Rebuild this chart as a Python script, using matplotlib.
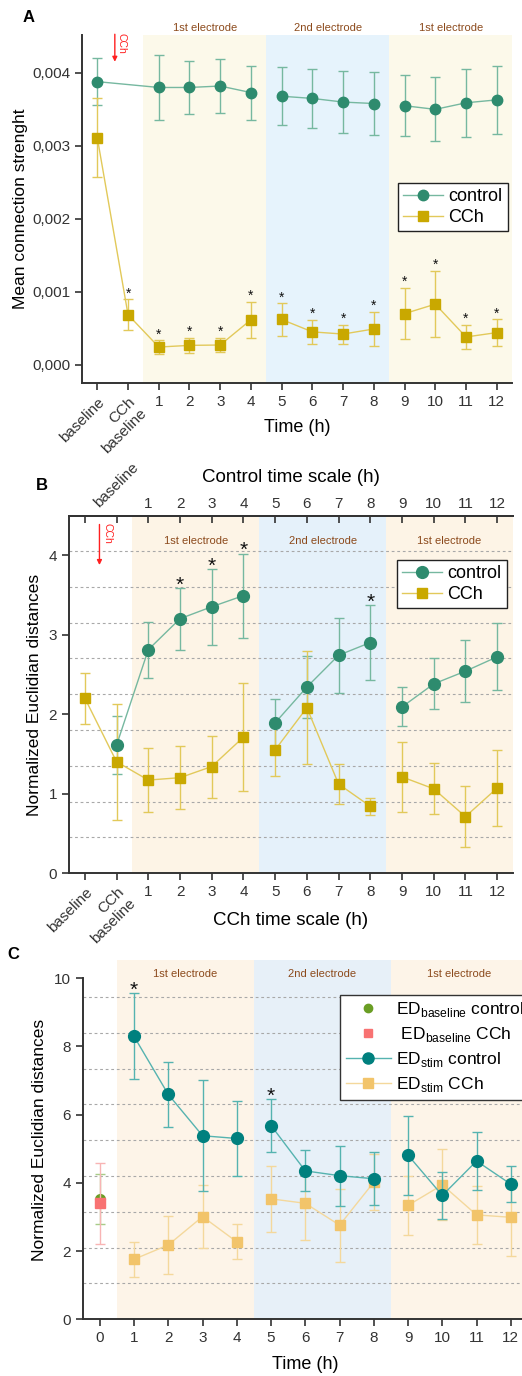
import matplotlib

matplotlib.use("Agg")
import matplotlib.pyplot as plt
from matplotlib.lines import Line2D
from matplotlib.ticker import FuncFormatter
from matplotlib.transforms import blended_transform_factory

plt.rcParams.update(
    {
        "font.family": ["Liberation Sans", "DejaVu Sans"],
        "mathtext.fontset": "custom",
        "mathtext.rm": "Liberation Sans",
        "axes.linewidth": 1.4,
        "axes.edgecolor": "#333333",
        "xtick.color": "#333333",
        "ytick.color": "#333333",
        "xtick.major.width": 1.2,
        "ytick.major.width": 1.2,
        "xtick.major.size": 5,
        "ytick.major.size": 5,
    }
)

hours = list(range(1, 13))
tick_labels = ["baseline", "CCh\nbaseline"] + [str(h) for h in hours]
blocks = [(-1, 4), (5, 8), (9, 12)]
electrodes = [(0.5, 4.5, "1st electrode"), (4.5, 8.5, "2nd electrode"), (8.5, 12.5, "1st electrode")]

# panel A: mean connection strength
a_control_x = [-1] + hours
a_control = [0.00388, 0.00380, 0.00380, 0.00382, 0.00373, 0.00368, 0.00365,
             0.00360, 0.00358, 0.00355, 0.00350, 0.00359, 0.00363]
a_control_err = [0.00032, 0.00044, 0.00036, 0.00037, 0.00037, 0.00040, 0.00040,
                 0.00042, 0.00043, 0.00042, 0.00044, 0.00047, 0.00047]
a_cch_x = [-1, 0] + hours
a_cch = [0.00311, 0.000685, 0.000242, 0.000265, 0.00027, 0.000616, 0.00062,
         0.00045, 0.00042, 0.00049, 0.00070, 0.00083, 0.00038, 0.00044]
a_cch_err = [0.00054, 0.00021, 0.00009, 0.00010, 0.00010, 0.00025, 0.00022,
             0.00016, 0.00013, 0.00023, 0.00035, 0.00045, 0.00017, 0.00018]
a_star_x = [0] + hours

# panel B: normalized euclidian distances, two time scales
b_control_x = [0] + hours
b_control = [1.61, 2.81, 3.20, 3.35, 3.49, 1.89, 2.34, 2.74, 2.90, 2.09, 2.38, 2.54, 2.72]
b_control_err = [0.36, 0.35, 0.39, 0.48, 0.53, 0.30, 0.39, 0.47, 0.47, 0.245, 0.32, 0.39, 0.42]
b_cch_x = [-1, 0] + hours
b_cch = [2.20, 1.40, 1.17, 1.20, 1.34, 1.71, 1.55, 2.08, 1.12, 0.84, 1.21, 1.06, 0.71, 1.07]
b_cch_err = [0.32, 0.73, 0.40, 0.40, 0.39, 0.68, 0.33, 0.71, 0.25, 0.11, 0.44, 0.32, 0.38, 0.48]
b_star_x = [2, 3, 4, 8]
b_top_labels = ["", "baseline"] + [str(h) for h in hours]

# panel C: ED baseline vs ED stim
c_base_control, c_base_control_err = 3.53, 0.73
c_base_cch, c_base_cch_err = 3.40, 1.18
c_control = [8.29, 6.59, 5.38, 5.30, 5.68, 4.35, 4.21, 4.12, 4.81, 3.63, 4.64, 3.96]
c_control_err = [1.26, 0.94, 1.62, 1.10, 0.79, 0.60, 0.88, 0.78, 1.16, 0.69, 0.85, 0.53]
c_cch = [1.76, 2.18, 3.01, 2.27, 3.53, 3.40, 2.76, 4.02, 3.34, 3.94, 3.06, 2.99]
c_cch_err = [0.52, 0.86, 0.93, 0.51, 0.96, 1.07, 1.07, 0.82, 0.87, 1.04, 0.85, 1.12]
c_star_x = [1, 5]

BROWN = "#8c4a1c"
RED = "#ff2020"


def draw_series(ax, x, y, err, *, marker, color, light, ms, z=3):
    ax.errorbar(x, y, yerr=err, fmt="none", ecolor=light, elinewidth=1.0,
                capsize=3.5, capthick=1.0, zorder=z)
    for lo, hi in blocks:
        idx = [i for i, v in enumerate(x) if lo <= v <= hi]
        ax.plot([x[i] for i in idx], [y[i] for i in idx], color=light, lw=1.0, zorder=z)
    ax.plot(x, y, ls="none", marker=marker, color=color, ms=ms, zorder=z + 1)


def add_stars(ax, xs, x, y, err, size, dy):
    for xv in xs:
        i = x.index(xv)
        ax.annotate("*", (xv, y[i] + err[i]), xytext=(0, dy), textcoords="offset points",
                    ha="center", va="baseline", fontsize=size, color="#111111", zorder=6)


def shade(ax, colors):
    for (lo, hi, _), c in zip(electrodes, colors):
        ax.axvspan(lo, hi, color=c, lw=0, zorder=0)


def rotate_first(labels, n):
    for lab in labels[:n]:
        lab.set_rotation(45)
        lab.set_ha("right")
        lab.set_va("top")
        lab.set_rotation_mode("anchor")
        lab.set_multialignment("right")


def place_xlabel(ax, text, size, y):
    ax.set_xlabel(text, fontsize=size)
    ax.xaxis.set_label_coords(0.5, y)
    ax.xaxis.label.set_va("center")


fig = plt.figure(figsize=(5.22, 13.76), dpi=100)

# ---------------- A ----------------
ax = fig.add_axes([0.157, 0.7217, 0.824, 0.2529])
shade(ax, ["#fcf9ea", "#e6f3fc", "#fcf9ea"])
draw_series(ax, a_control_x, a_control, a_control_err, marker="o",
            color="#2e8b6e", light="#76b8a0", ms=7.5)
draw_series(ax, a_cch_x, a_cch, a_cch_err, marker="s",
            color="#c9a800", light="#e2c95a", ms=6.5)
add_stars(ax, a_star_x, a_cch_x, a_cch, a_cch_err, 10, 1.5)
ax.set_xlim(-1.5, 12.5)
ax.set_ylim(-0.00025, 0.00452)
ax.set_yticks([0, 0.001, 0.002, 0.003, 0.004])
ax.yaxis.set_major_formatter(FuncFormatter(lambda v, _: f"{v:.3f}".replace(".", ",")))
ax.set_xticks(a_cch_x)
ax.set_xticklabels(tick_labels)
rotate_first(ax.get_xticklabels(), 2)
ax.tick_params(labelsize=11)
ax.spines[["top", "right"]].set_visible(False)
place_xlabel(ax, "Time (h)", 13, -0.129)
ax.set_ylabel("Mean connection strenght", fontsize=12.5, labelpad=3)
tr = blended_transform_factory(ax.transData, ax.transAxes)
for lo, hi, name in electrodes:
    ax.text((lo + hi) / 2, 1.005, name, transform=tr, ha="center", va="bottom",
            fontsize=8, color=BROWN)
ax.annotate("", xy=(-0.43, 0.915), xytext=(-0.43, 1.01), xycoords=tr, textcoords=tr,
            arrowprops=dict(arrowstyle="-|>", color=RED, lw=1.0, mutation_scale=7),
            annotation_clip=False)
ax.text(-0.2, 0.975, "CCh", transform=tr, rotation=-90, ha="center", va="center",
        fontsize=7.5, color=RED)
handles = [
    Line2D([], [], color="#76b8a0", marker="o", mfc="#2e8b6e", mec="#2e8b6e", ms=7.5, lw=1.0),
    Line2D([], [], color="#e2c95a", marker="s", mfc="#c9a800", mec="#c9a800", ms=6.5, lw=1.0),
]
ax.legend(handles, ["control", "CCh"], loc="upper right", bbox_to_anchor=(0.99, 0.575),
          fontsize=13, fancybox=False, edgecolor="#222222", framealpha=1,
          handlelength=2.2, borderaxespad=0, borderpad=0.3, labelspacing=0.2,
          handletextpad=0.3)

# ---------------- B ----------------
ax = fig.add_axes([0.1322, 0.3655, 0.8506, 0.2594])
shade(ax, ["#fdf4e6", "#e5f1fa", "#fdf4e6"])
for k in range(1, 10):
    ax.axhline(0.45 * k, color="#a8a8a8", lw=0.8, ls=(0, (2.5, 2.5)), zorder=1)
draw_series(ax, b_control_x, b_control, b_control_err, marker="o",
            color="#2e8b6e", light="#76b8a0", ms=8.5)
draw_series(ax, b_cch_x, b_cch, b_cch_err, marker="s",
            color="#c9a800", light="#e2c95a", ms=7)
add_stars(ax, b_star_x, b_control_x, b_control, b_control_err, 15, -2)
ax.set_xlim(-1.5, 12.5)
ax.set_ylim(0, 4.49)
ax.set_yticks([0, 1, 2, 3, 4])
ax.set_xticks(b_cch_x)
ax.set_xticklabels(tick_labels)
rotate_first(ax.get_xticklabels(), 2)
ax.tick_params(labelsize=11)
ax.spines["right"].set_visible(False)
place_xlabel(ax, "CCh time scale (h)", 13.5, -0.132)
ax.set_ylabel("Normalized Euclidian distances", fontsize=12.5, labelpad=5)
sec = ax.secondary_xaxis("top")
sec.set_xticks(b_cch_x, b_top_labels)
sec.tick_params(direction="in", labelsize=11, length=5, width=1.2, pad=4)
top_lab = sec.get_xticklabels()[1]
top_lab.set_rotation(45)
top_lab.set_ha("center")
ax.text(0.5, 1.109, "Control time scale (h)", transform=ax.transAxes, ha="center",
        va="center", fontsize=13.5)
for lo, hi, name in electrodes:
    ax.text((lo + hi) / 2, 4.18, name, ha="center", va="center", fontsize=8, color=BROWN)
ax.annotate("", xy=(-0.54, 3.84), xytext=(-0.54, 4.42),
            arrowprops=dict(arrowstyle="-|>", color=RED, lw=1.0, mutation_scale=7))
ax.text(-0.3, 4.27, "CCh", rotation=-90, ha="center", va="center", fontsize=7.5, color=RED)
handles = [
    Line2D([], [], color="#76b8a0", marker="o", mfc="#2e8b6e", mec="#2e8b6e", ms=8.5, lw=1.0),
    Line2D([], [], color="#e2c95a", marker="s", mfc="#c9a800", mec="#c9a800", ms=7, lw=1.0),
]
ax.legend(handles, ["control", "CCh"], loc="upper right", bbox_to_anchor=(0.986, 0.877),
          fontsize=13, fancybox=False, edgecolor="#222222", framealpha=1,
          handlelength=2.2, borderaxespad=0, borderpad=0.3, labelspacing=0.2,
          handletextpad=0.3)

# ---------------- C ----------------
ax = fig.add_axes([0.1584, 0.0412, 0.853, 0.2611])
shade(ax, ["#fdf4e8", "#e7f0f8", "#fdf4e8"])
for k in range(1, 10):
    ax.axhline(1.05 * k, color="#a8a8a8", lw=0.8, ls=(0, (2.5, 2.5)), zorder=1)
ax.errorbar([0], [c_base_cch], yerr=[c_base_cch_err], fmt="s", color="#f87272", ms=7,
            ecolor="#f8b4b4", elinewidth=1.0, capsize=3.5, capthick=1.0, zorder=3)
ax.errorbar([0], [c_base_control], yerr=[c_base_control_err], fmt="o", color="#6a9e24",
            ms=7, ecolor="#a8cc88", elinewidth=1.0, capsize=3.5, capthick=1.0, zorder=2)
draw_series(ax, hours, c_cch, c_cch_err, marker="s", color="#f2c46a", light="#f4d89c", ms=7.5)
draw_series(ax, hours, c_control, c_control_err, marker="o", color="#00807e",
            light="#55b3b0", ms=8.5, z=4)
add_stars(ax, c_star_x, hours, c_control, c_control_err, 15, -2)
ax.set_xlim(-0.5, 12.5)
ax.set_ylim(0, 10.53)
ax.spines["left"].set_bounds(0, 10)
ax.set_yticks([0, 2, 4, 6, 8, 10])
ax.set_xticks([0] + hours)
ax.tick_params(labelsize=11)
ax.spines[["top", "right"]].set_visible(False)
place_xlabel(ax, "Time (h)", 13, -0.125)
ax.set_ylabel("Normalized Euclidian distances", fontsize=12.5, labelpad=5)
for lo, hi, name in electrodes:
    ax.text((lo + hi) / 2, 10.13, name, ha="center", va="center", fontsize=8, color=BROWN)
handles = [
    Line2D([], [], ls="none", marker="o", color="#6a9e24", ms=6),
    Line2D([], [], ls="none", marker="s", color="#f87272", ms=6),
    Line2D([], [], color="#55b3b0", marker="o", mfc="#00807e", mec="#00807e", ms=8, lw=1.0),
    Line2D([], [], color="#f4d89c", marker="s", mfc="#f2c46a", mec="#f2c46a", ms=7, lw=1.0),
]
labels = [
    r"ED$_{\mathrm{baseline}}$ control",
    r" ED$_{\mathrm{baseline}}$ CCh",
    r"ED$_{\mathrm{stim}}$ control",
    r"ED$_{\mathrm{stim}}$ CCh",
]
ax.legend(handles, labels, loc="upper left", bbox_to_anchor=(0.579, 0.903),
          fontsize=12.5, fancybox=False, edgecolor="#333333", framealpha=1,
          handlelength=2.6, borderaxespad=0, borderpad=0.3, labelspacing=0.35,
          handletextpad=0.3)

fig.text(0.054, 0.987, "A", fontsize=12, fontweight="bold", ha="center", va="center")
fig.text(0.080, 0.6475, "B", fontsize=12, fontweight="bold", ha="center", va="center")
fig.text(0.025, 0.306, "C", fontsize=12, fontweight="bold", ha="center", va="center")

fig.savefig("out.png", dpi=100)
